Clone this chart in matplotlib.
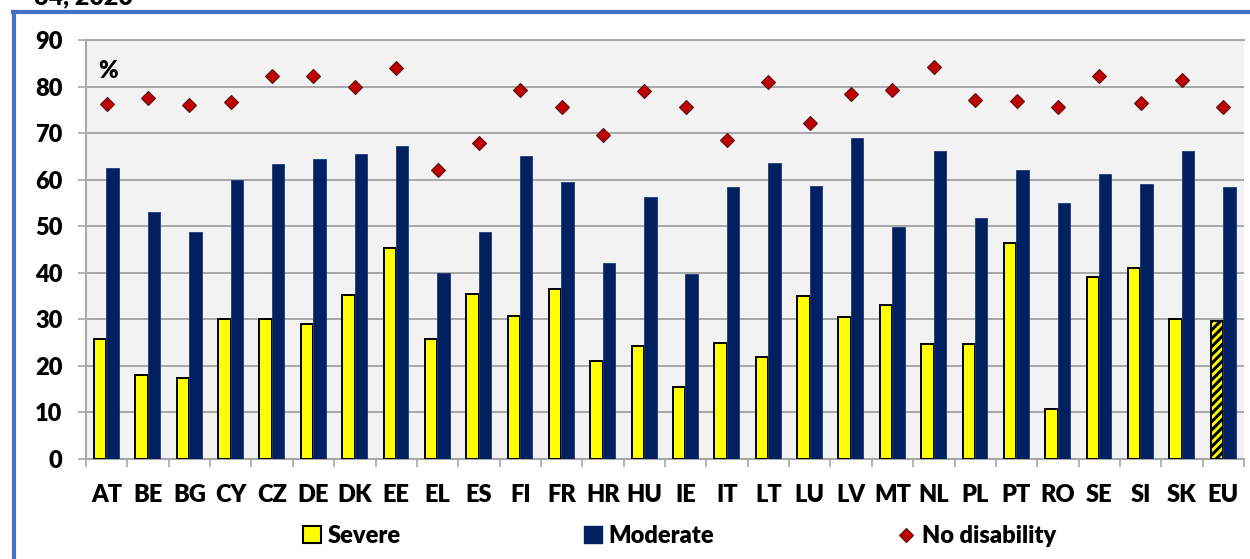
import matplotlib
matplotlib.use("Agg")
import matplotlib.pyplot as plt
import numpy as np
from matplotlib.patches import Rectangle
from matplotlib.lines import Line2D

countries = ["AT", "BE", "BG", "CY", "CZ", "DE", "DK", "EE", "EL", "ES", "FI", "FR", "HR", "HU",
             "IE", "IT", "LT", "LU", "LV", "MT", "NL", "PL", "PT", "RO", "SE", "SI", "SK", "EU"]
severe = [25.8, 18.0, 17.3, 30.0, 30.0, 29.0, 35.2, 45.4, 25.8, 35.5, 30.8, 36.5, 21.0, 24.2,
          15.5, 25.0, 22.0, 35.0, 30.5, 33.0, 24.7, 24.7, 46.5, 10.8, 39.0, 41.0, 30.0, 29.6]
moderate = [62.5, 53.0, 48.8, 60.0, 63.3, 64.5, 65.6, 67.2, 40.0, 48.8, 65.0, 59.5, 42.2, 56.2,
            39.8, 58.4, 63.6, 58.7, 69.0, 49.8, 66.2, 51.8, 62.0, 55.0, 61.2, 59.0, 66.2, 58.4]
no_disability = [76.2, 77.5, 76.0, 76.6, 82.2, 82.2, 80.0, 84.0, 62.0, 67.8, 79.2, 75.6, 69.5, 79.0,
                 75.6, 68.6, 81.0, 72.2, 78.3, 79.2, 84.2, 77.2, 77.0, 75.6, 82.2, 76.4, 81.4, 75.6]
yticks = [0, 10, 20, 30, 40, 50, 60, 70, 80, 90]

plt.rcParams['font.family'] = ['Lato', 'DejaVu Sans']
plt.rcParams['font.weight'] = 'heavy'
plt.rcParams['hatch.linewidth'] = 2.2
FW = "heavy"
FS = 17

W, H = 1250, 559
fig = plt.figure(figsize=(W / 100, H / 100), dpi=100)
ax = fig.add_axes([86 / W, (H - 459) / H, (1244 - 86) / W, (459 - 40) / H])

grid_c = "#A6A6A6"
ax.set_facecolor("#F2F2F2")
n = len(countries)
x = np.arange(n)
bw = 0.3
bars = ax.bar(x - 0.155, severe, width=bw, color="#FFFF00", edgecolor="black", linewidth=1.4, zorder=3)
bars[-1].set_hatch("////")
ax.bar(x + 0.145, moderate, width=bw, color="#002060", edgecolor="#1F3A7A", linewidth=0.6, zorder=3)
ax.plot(x, no_disability, linestyle="none", marker="D", markersize=7.2, markerfacecolor="#C00000",
        markeredgecolor="#5A1010", markeredgewidth=0.8, zorder=4)

ax.set_xlim(-0.5, n - 0.5)
ax.set_ylim(0, 90)
ax.set_yticks(yticks)
ax.yaxis.grid(True, color=grid_c, linewidth=1.4, zorder=1)
ax.set_axisbelow(True)
ax.set_xticks(x)
ax.set_xticklabels(countries)
ax.set_xticks(np.arange(n + 1) - 0.5, minor=True)
ax.tick_params(axis="x", which="major", length=0, pad=18, labelsize=FS)
ax.tick_params(axis="x", which="minor", length=6, width=1.2, color=grid_c, direction="out")
ax.tick_params(axis="y", length=6, width=1.2, color=grid_c, pad=11, labelsize=FS)
for lab in ax.get_xticklabels() + ax.get_yticklabels():
    lab.set_fontweight(FW)
ax.spines["right"].set_visible(False)
for s in ["top", "left", "bottom"]:
    ax.spines[s].set_color(grid_c)
    ax.spines[s].set_linewidth(1.4)

ax.text(0.011, 0.925, "%", transform=ax.transAxes, fontsize=17, fontweight=FW, va="center", ha="left")

handles = [Rectangle((0, 0), 1, 1, facecolor="#FFFF00", edgecolor="black", linewidth=1.5),
           Rectangle((0, 0), 1, 1, facecolor="#002060", edgecolor="#002060"),
           Line2D([], [], linestyle="none", marker="D", markersize=7, markerfacecolor="#C00000",
                  markeredgecolor="#5A1010", markeredgewidth=0.8)]
leg = fig.legend(handles, ["Severe", "Moderate", "No disability"], ncol=3, frameon=False,
                 loc="center left", bbox_to_anchor=(303 / W, (H - 536) / H),
                 prop={"size": FS, "weight": FW}, handlelength=0.75, handleheight=0.75,
                 handletextpad=0.3, columnspacing=7.75, borderaxespad=0, borderpad=0)

# blue frame
fig.add_artist(Line2D([14.5 / W, 14.5 / W], [-0.1, (H - 12) / H], color="#4472C4", linewidth=3, transform=fig.transFigure))
fig.add_artist(Line2D([13 / W, 1.1], [(H - 12) / H, (H - 12) / H], color="#4472C4", linewidth=3, transform=fig.transFigure))
fig.text(133 / W, (H - 4) / H, "64, 2020", fontsize=18, fontweight=FW, ha="right", va="baseline")

fig.savefig("out.png", dpi=100)
